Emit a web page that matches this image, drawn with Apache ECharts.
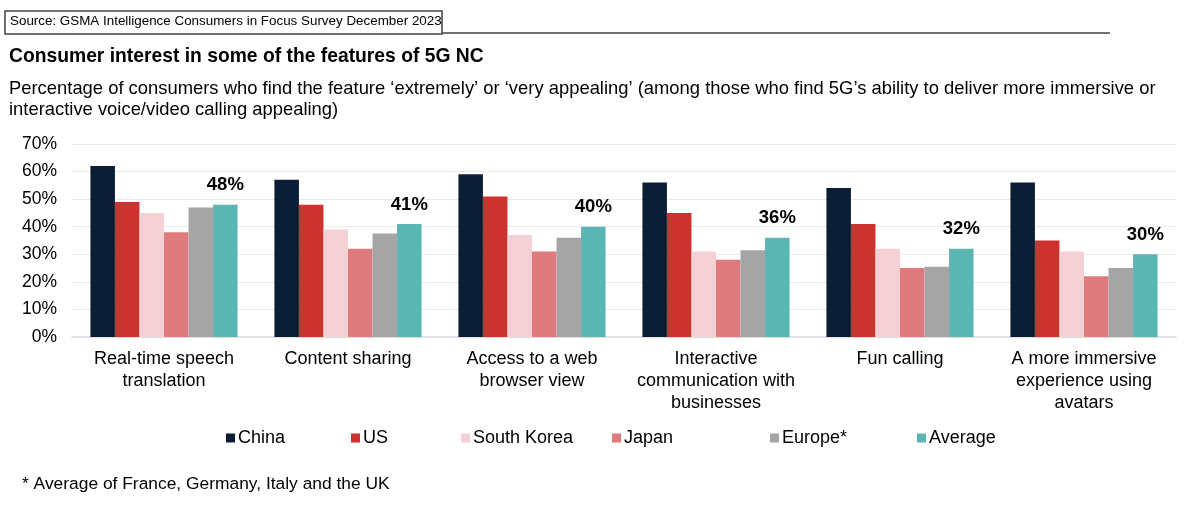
<!DOCTYPE html>
<html>
<head>
<meta charset="utf-8">
<script src="https://cdn.jsdelivr.net/npm/echarts@6/dist/echarts.min.js"></script>
<style>
	html, body { margin: 0; padding: 0; background: #fff; }
	#chart { width: 1200px; height: 507px; }
</style>
</head>
<body>
<div id="chart"></div>
<script>
const features = [
	"Real-time speech\ntranslation",
	"Content sharing",
	"Access to a web\nbrowser view",
	"Interactive\ncommunication with\nbusinesses",
	"Fun calling",
	"A more immersive\nexperience using\navatars",
];
const seriesNames = ["China", "US", "South Korea", "Japan", "Europe*", "Average"];
const china = [62, 57, 59, 56, 54, 56];
const us = [49, 48, 51, 45, 41, 35];
const southKorea = [45, 39, 37, 31, 32, 31];
const japan = [38, 32, 31, 28, 25, 22];
const europe = [47, 37.5, 36, 31.5, 25.5, 25];
const average = [48, 41, 40, 36, 32, 30];
const yTicks = [0, 10, 20, 30, 40, 50, 60, 70];

const colors = ["#0c1e36", "#cd3230", "#f4d1d4", "#e07b7d", "#a5a5a5", "#5bb6b3"];
const legendLeft = [226, 351, 461, 612, 770, 917];
const font = "'Liberation Sans', Arial, sans-serif";

const values = [china, us, southKorea, japan, europe, average];

const chart = echarts.init(document.getElementById("chart"));

const series = seriesNames.map((name, i) => ({
	name: name,
	type: "bar",
	barGap: "0%",
	barCategoryGap: "20%",
	data: values[i],
	itemStyle: { color: colors[i] },
	label: {
		show: name === "Average",
		position: "top",
		distance: 10,
		formatter: "{c}%",
		fontFamily: font,
		fontSize: 18.5,
		fontWeight: "bold",
		color: "#000",
	},
	emphasis: { disabled: true },
}));

const legends = seriesNames.map((name, i) => ({
	data: [name],
	left: legendLeft[i],
	top: 429,
	icon: "rect",
	itemWidth: 9,
	itemHeight: 9,
	itemGap: 5,
	padding: 0,
	selectedMode: false,
	textStyle: { fontFamily: font, fontSize: 18, color: "#000", padding: [0, 0, 0, -2] },
}));

const option = {
	animation: false,
	backgroundColor: "#fff",
	textStyle: { fontFamily: font },
	title: [
		{
			text: "Consumer interest in some of the features of 5G NC",
			left: 9,
			top: 47,
			padding: 0,
			textStyle: { fontFamily: font, fontSize: 19.3, fontWeight: "bold", color: "#000" },
		},
		{
			text:
				"Percentage of consumers who find the feature \u2018extremely\u2019 or \u2018very appealing\u2019 (among those who find 5G\u2019s ability to deliver more immersive or\ninteractive voice/video calling appealing)",
			left: 9,
			top: 78,
			padding: 0,
			textStyle: { fontFamily: font, fontSize: 18.4, fontWeight: "normal", color: "#000", lineHeight: 21 },
		},
		{
			text: "* Average of France, Germany, Italy and the UK",
			left: 22,
			top: 476,
			padding: 0,
			textStyle: { fontFamily: font, fontSize: 17.4, fontWeight: "normal", color: "#000" },
		},
	],
	graphic: [
		{
			type: "rect",
			shape: { x: 5, y: 11, width: 437, height: 23 },
			style: { fill: "#fff", stroke: "#404040", lineWidth: 1.5 },
		},
		{
			type: "line",
			shape: { x1: 442, y1: 33, x2: 1110, y2: 33 },
			style: { stroke: "#404040", lineWidth: 1.5 },
		},
		{
			type: "text",
			left: 10,
			top: 15,
			style: {
				text: "Source: GSMA Intelligence Consumers in Focus Survey December 2023",
				font: "13.4px " + font,
				fill: "#000",
			},
		},
	],
	legend: legends,
	grid: { left: 72, right: 24, top: 144, bottom: 170, containLabel: false },
	xAxis: {
		type: "category",
		data: features,
		axisTick: { show: false },
		axisLine: { lineStyle: { color: "#d9d9d9", width: 1.5 } },
		axisLabel: {
			interval: 0,
			margin: 11,
			fontFamily: font,
			fontSize: 18,
			lineHeight: 22,
			color: "#000",
		},
	},
	yAxis: {
		type: "value",
		min: yTicks[0],
		max: yTicks[yTicks.length - 1],
		interval: 10,
		axisLine: { show: false },
		axisTick: { show: false },
		splitLine: { lineStyle: { color: "#ebebeb", width: 1 } },
		axisLabel: {
			formatter: "{value}%",
			margin: 15,
			fontFamily: font,
			fontSize: 17.5,
			color: "#000",
		},
	},
	series: series,
};

chart.setOption(option);
</script>
</body>
</html>
